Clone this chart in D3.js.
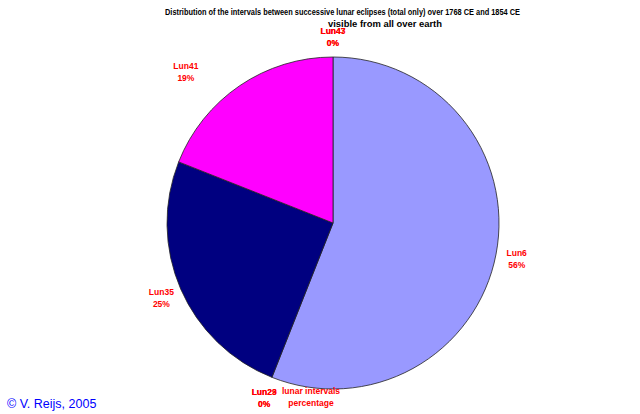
<!DOCTYPE html>
<html>
<head>
<meta charset="utf-8">
<script src="https://cdn.jsdelivr.net/npm/d3@7/dist/d3.min.js"></script>
<style>
  html, body { margin: 0; padding: 0; background: #fff; }
  svg { display: block; }
</style>
</head>
<body>
<svg id="chart" width="640" height="414"></svg>
<script>
// ---- data ----
const categories = ["Lun6", "Lun23", "Lun29", "Lun35", "Lun41", "Lun43", "Lun47"];
const percentages = [56, 0, 0, 25, 19, 0, 0];
const sliceColors = ["#9999FF", "#9999FF", "#9999FF", "#000080", "#FF00FF", "#FF00FF", "#FF00FF"];
const titleLines = [
  "Distribution of the intervals between successive lunar eclipses (total only) over 1768 CE and 1854 CE",
  "visible from all over earth"
];
const seriesName = ["lunar intervals", "percentage"];
const copyright = "\u00A9 V. Reijs, 2005";

// ---- layout ----
const svg = d3.select("#chart");
const cx = 333, cy = 223, R = 166, labelR = 187;
const font = "Arial, 'Liberation Sans', sans-serif";

const data = categories.map((c, i) => ({ cat: c, value: percentages[i], color: sliceColors[i] }));

const pie = d3.pie().value(d => d.value).sort(null).startAngle(0).endAngle(2 * Math.PI);
const arcs = pie(data);
const arcGen = d3.arc().innerRadius(0).outerRadius(R);

const g = svg.append("g").attr("transform", `translate(${cx},${cy})`);
g.selectAll("path.slice")
  .data(arcs.filter(a => a.data.value > 0))
  .join("path")
  .attr("class", "slice")
  .attr("d", arcGen)
  .attr("fill", d => d.data.color)
  .attr("stroke", "#222")
  .attr("stroke-width", 0.8);

// labels
const nudge = { "Lun41": [-42, 3] };
const labels = g.selectAll("g.lab")
  .data(arcs)
  .join("g")
  .attr("class", "lab")
  .attr("transform", d => {
    const a = (d.startAngle + d.endAngle) / 2;
    const n = nudge[d.data.cat] || [0, 0];
    const x = Math.sin(a) * labelR + n[0];
    const y = -Math.cos(a) * labelR + n[1];
    return `translate(${x},${y})`;
  });
labels.append("text")
  .attr("text-anchor", "middle")
  .attr("y", -2)
  .attr("font-family", font).attr("font-weight", "bold").attr("font-size", 8.5)
  .attr("fill", "#FF0000")
  .text(d => d.data.cat);
labels.append("text")
  .attr("text-anchor", "middle")
  .attr("y", 10)
  .attr("font-family", font).attr("font-weight", "bold").attr("font-size", 8.5)
  .attr("fill", "#FF0000")
  .text(d => Math.round(d.data.value) + "%");

// series name label
svg.append("g").selectAll("text")
  .data(seriesName)
  .join("text")
  .attr("x", 311).attr("y", (d, i) => 394 + i * 12)
  .attr("text-anchor", "middle")
  .attr("font-family", font).attr("font-weight", "bold").attr("font-size", 8.5)
  .attr("fill", "#FF0000")
  .text(d => d);

// title
svg.append("text")
  .attr("x", 165).attr("y", 15)
  .attr("font-family", font).attr("font-weight", "bold").attr("font-size", 9)
  .attr("textLength", 355).attr("lengthAdjust", "spacingAndGlyphs")
  .attr("fill", "#000")
  .text(titleLines[0]);
svg.append("text")
  .attr("x", 328).attr("y", 27)
  .attr("font-family", font).attr("font-weight", "bold").attr("font-size", 9)
  .attr("textLength", 114).attr("lengthAdjust", "spacingAndGlyphs")
  .attr("fill", "#000")
  .text(titleLines[1]);

// copyright
svg.append("text")
  .attr("x", 7).attr("y", 408)
  .attr("font-family", font).attr("font-size", 12.5)
  .attr("fill", "#0000FF")
  .text(copyright);
</script>
</body>
</html>
